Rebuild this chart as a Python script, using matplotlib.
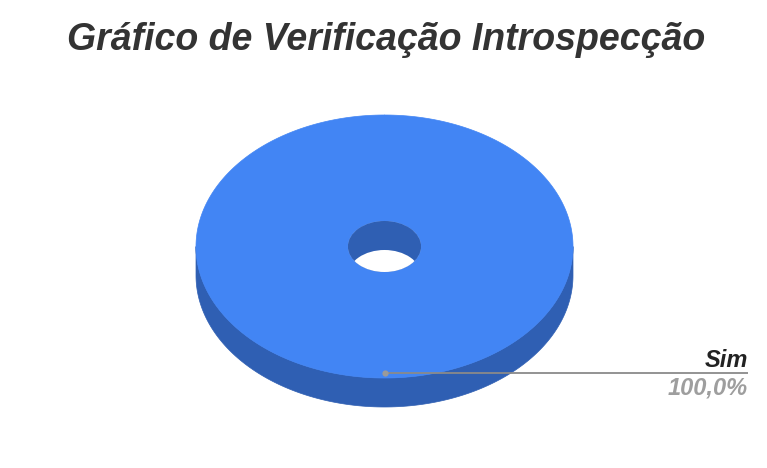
import numpy as np
import matplotlib.pyplot as plt
from matplotlib.patches import Polygon, Ellipse

# dados
categorias = ['Sim']
valores = [1]
cores_topo = ['#4285f4']
cores_lado = ['#2f5fb3']
titulo = 'Gráfico de Verificação Introspecção'

plt.rcParams['font.family'] = ['Liberation Sans', 'DejaVu Sans']

fig = plt.figure(figsize=(7.67, 4.68), dpi=100)
ax = fig.add_axes([0, 0, 1, 1])
ax.set_xlim(0, 767)
ax.set_ylim(468, 0)
ax.axis('off')

# geometria do "pie 3D" (em pixels)
cx, cy = 384.5, 246.5
rx, ry = 188.5, 131.5
prof = 29
buraco = 0.194

def ponto(a, r=1.0, dy=0):
    # angulo a partir do topo, sentido horario
    return cx + rx * r * np.sin(a), cy - ry * r * np.cos(a) + dy

total = sum(valores)
fracs = np.array(valores) / total
inicio = np.concatenate([[0], np.cumsum(fracs)[:-1]]) * 2 * np.pi
fim = np.cumsum(fracs) * 2 * np.pi

# lateral (frente)
for a0, a1, c in zip(inicio, fim, cores_lado):
    b0, b1 = max(a0, np.pi / 2), min(a1, 3 * np.pi / 2)
    if b1 > b0:
        t = np.linspace(b0, b1, 200)
        x, y = ponto(t)
        xs = np.concatenate([x, x[::-1]])
        ys = np.concatenate([y, (y + prof)[::-1]])
        ax.add_patch(Polygon(np.column_stack([xs, ys]), closed=True, fc=c, ec=c, lw=0.5))

# topo
for a0, a1, c in zip(inicio, fim, cores_topo):
    t = np.linspace(a0, a1, 400)
    xo, yo = ponto(t)
    xi, yi = ponto(t[::-1], buraco)
    ax.add_patch(Polygon(np.column_stack([np.concatenate([xo, xi]), np.concatenate([yo, yi])]),
                         closed=True, fc=c, ec=c, lw=0.5))

# furo central: parede interna + fundo branco
furo = Ellipse((cx, cy), 2 * rx * buraco, 2 * ry * buraco, fc=cores_lado[0], ec='none')
ax.add_patch(furo)
fundo = Ellipse((cx, cy + prof), 2 * rx * buraco, 2 * ry * buraco, fc='white', ec='none')
ax.add_patch(fundo)
fundo.set_clip_path(furo)

# rotulo com linha guia
for a0, a1, nome, v in zip(inicio, fim, categorias, fracs):
    meio = (a0 + a1) / 2
    px, py = ponto(meio, 0.96)
    ax.plot([px, 748], [py, py], color='#8a8a8a', lw=1.3, solid_capstyle='butt')
    ax.plot(px, py, 'o', color='#9a9a9a', ms=4.5, mec='none')
    ax.text(748, py - 6, nome, ha='right', va='baseline', fontsize=17,
            fontweight='bold', fontstyle='italic', color='#222222')
    ax.text(748, py + 22, f'{v * 100:.1f}%'.replace('.', ','), ha='right', va='baseline',
            fontsize=17, fontweight='bold', fontstyle='italic', color='#9e9e9e')

ax.text(386, 50, titulo, ha='center', va='baseline', fontsize=27,
        fontweight='bold', fontstyle='italic', color='#333333')

fig.savefig('out.png', dpi=100)
